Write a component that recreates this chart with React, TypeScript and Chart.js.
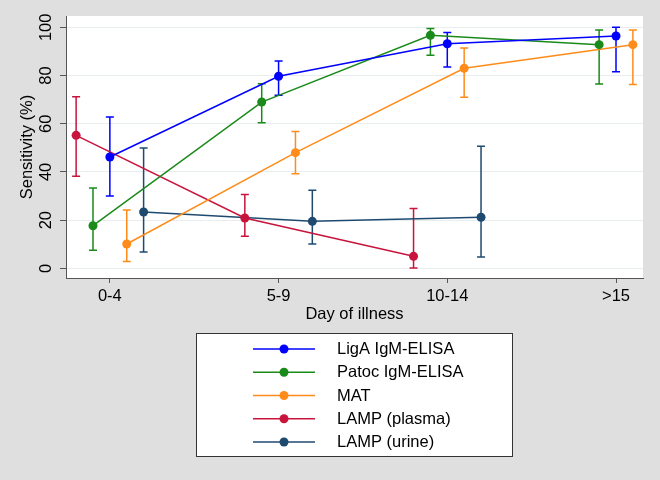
import React, { useEffect, useRef } from 'react';
import { Chart, registerables } from 'chart.js';

Chart.register(...registerables);

// ---- data ----
const categories = ['0-4', '5-9', '10-14', '>15'];
const yTickValues = [0, 20, 40, 60, 80, 100];

const seriesNames = ['LigA IgM-ELISA', 'Patoc IgM-ELISA', 'MAT', 'LAMP (plasma)', 'LAMP (urine)'];

const ligaEst = [46.2, 79.7, 93.2, 96.4];
const ligaLo = [30.0, 71.8, 83.5, 81.6];
const ligaHi = [62.8, 86.0, 97.9, 100];

const patocEst = [17.7, 69.0, 96.7, 92.8];
const patocLo = [7.5, 60.4, 88.4, 76.5];
const patocHi = [33.3, 76.6, 99.5, 98.9];

const matEst = [10.1, 48.0, 83.0, 92.8];
const matLo = [2.8, 39.3, 71.0, 76.3];
const matHi = [24.2, 56.8, 91.4, 98.9];

const plasmaEst = [55.2, 20.9, 5.0];
const plasmaLo = [38.2, 13.3, 0.1];
const plasmaHi = [71.2, 30.6, 24.8];

const urineEst = [23.4, 19.5, 21.2];
const urineLo = [6.8, 10.1, 4.7];
const urineHi = [49.9, 32.4, 50.7];

// ---- styles ----
const seriesColors = ['#0000ff', '#1a8a1a', '#ff8c1a', '#c8143c', '#1f4a70'];
const seriesShift = [0, -0.1, 0.1, -0.2, 0.2];
const FONT = '"Liberation Sans", Arial, Helvetica, sans-serif';
const FS = 16.5;
const BG = '#dfdfdf';

const seriesEst = [ligaEst, patocEst, matEst, plasmaEst, urineEst];
const seriesLo = [ligaLo, patocLo, matLo, plasmaLo, urineLo];
const seriesHi = [ligaHi, patocHi, matHi, plasmaHi, urineHi];

const bgPlugin = {
  id: 'bgPlugin',
  beforeDraw(chart: any) {
    const { ctx, chartArea } = chart;
    ctx.save();
    ctx.fillStyle = BG;
    ctx.fillRect(0, 0, chart.width, chart.height);
    ctx.fillStyle = '#ffffff';
    ctx.fillRect(chartArea.left, chartArea.top, chartArea.right - chartArea.left, chartArea.bottom - chartArea.top);
    ctx.restore();
  },
};

const errorBarPlugin = {
  id: 'errorBarPlugin',
  beforeDatasetsDraw(chart: any) {
    const { ctx } = chart;
    const yScale = chart.scales.y;
    const n = chart.data.datasets.length;
    for (let d = n - 1; d >= 0; d--) {
      const ds: any = chart.data.datasets[d];
      const meta = chart.getDatasetMeta(d);
      ctx.save();
      ctx.strokeStyle = ds.borderColor;
      ctx.lineWidth = 1.5;
      meta.data.forEach((pt: any, i: number) => {
        const x = pt.x;
        const yl = yScale.getPixelForValue(ds.errLo[i]);
        const yh = yScale.getPixelForValue(ds.errHi[i]);
        const cap = 4;
        ctx.beginPath();
        ctx.moveTo(x, yl);
        ctx.lineTo(x, yh);
        ctx.moveTo(x - cap, yl);
        ctx.lineTo(x + cap, yl);
        ctx.moveTo(x - cap, yh);
        ctx.lineTo(x + cap, yh);
        ctx.stroke();
      });
      ctx.restore();
    }
  },
};

const boxLegendPlugin = {
  id: 'boxLegendPlugin',
  afterDraw(chart: any) {
    const { ctx } = chart;
    const area = chart.chartArea;
    const w = 317;
    const h = 124;
    const cx = (area.left + area.right) / 2;
    const left = Math.round(cx - w / 2);
    const top = 333;
    ctx.save();
    ctx.fillStyle = '#ffffff';
    ctx.fillRect(left, top, w, h);
    ctx.strokeStyle = '#333333';
    ctx.lineWidth = 1;
    ctx.strokeRect(left + 0.5, top + 0.5, w - 1, h - 1);
    const rowStep = 23.25;
    chart.data.datasets.forEach((ds: any, i: number) => {
      const y = top + 16 + i * rowStep;
      const x0 = left + 57;
      const x1 = left + 119;
      ctx.strokeStyle = ds.borderColor;
      ctx.lineWidth = 1.5;
      ctx.beginPath();
      ctx.moveTo(x0, y);
      ctx.lineTo(x1, y);
      ctx.stroke();
      ctx.fillStyle = ds.borderColor;
      ctx.beginPath();
      ctx.arc((x0 + x1) / 2, y, 4.5, 0, Math.PI * 2);
      ctx.fill();
      ctx.fillStyle = '#000000';
      ctx.font = `${FS}px ${FONT}`;
      ctx.textAlign = 'left';
      ctx.textBaseline = 'middle';
      ctx.fillText(ds.label, left + 141, y + 0.5);
    });
    ctx.restore();
  },
};

export default function App() {
  const canvasRef = useRef<HTMLCanvasElement | null>(null);

  useEffect(() => {
    const canvas = canvasRef.current;
    if (!canvas) return;
    const datasets = seriesNames.map((name, s) => ({
      label: name,
      data: seriesEst[s].map((v, i) => ({ x: i + seriesShift[s], y: v })),
      errLo: seriesLo[s],
      errHi: seriesHi[s],
      borderColor: seriesColors[s],
      backgroundColor: seriesColors[s],
      pointBackgroundColor: seriesColors[s],
      pointBorderColor: seriesColors[s],
      pointBorderWidth: 0,
      pointRadius: 4.5,
      borderWidth: 1.5,
      tension: 0,
      fill: false,
    }));

    const chart = new Chart(canvas, {
      type: 'line',
      data: { datasets } as any,
      options: {
        animation: false,
        responsive: false,
        devicePixelRatio: 1,
        events: [],
        layout: { padding: { left: 0, top: 16, right: 17, bottom: 155 } },
        plugins: {
          legend: { display: false },
          tooltip: { enabled: false },
        },
        scales: {
          x: {
            type: 'linear',
            min: -0.26,
            max: 3.16,
            afterBuildTicks: (s: any) => {
              s.ticks = categories.map((_, i) => ({ value: i }));
            },
            afterFit: (s: any) => {
              s.height = 47;
            },
            ticks: {
              callback: (v: any) => categories[Math.round(Number(v))] ?? '',
              padding: 3.5,
              color: '#000',
              font: { family: FONT, size: FS },
              maxRotation: 0,
              minRotation: 0,
              autoSkip: false,
            },
            grid: {
              display: true,
              drawOnChartArea: false,
              tickLength: 5,
              tickColor: '#555555',
              tickWidth: 1,
            },
            border: { display: true, color: '#555555', width: 1 },
            title: {
              display: true,
              text: 'Day of illness',
              color: '#000',
              font: { family: FONT, size: FS },
              padding: { top: 0, bottom: 0.9 },
            },
          },
          y: {
            type: 'linear',
            min: -4,
            max: 104.7,
            afterBuildTicks: (s: any) => {
              s.ticks = yTickValues.map((v) => ({ value: v }));
            },
            afterFit: (s: any) => {
              s.width = 66;
            },
            ticks: {
              minRotation: 90,
              maxRotation: 90,
              crossAlign: 'center',
              padding: 0,
              color: '#000',
              font: { family: FONT, size: FS },
            },
            grid: {
              color: '#e8eef0',
              lineWidth: 1,
              tickLength: 6,
              tickColor: '#555555',
              tickWidth: 1,
            },
            border: { display: true, color: '#555555', width: 1 },
            title: {
              display: true,
              text: 'Sensitivity (%)',
              color: '#000',
              font: { family: FONT, size: FS },
              padding: { top: 18, bottom: 0 },
            },
          },
        },
      } as any,
      plugins: [bgPlugin, errorBarPlugin, boxLegendPlugin],
    });
    return () => chart.destroy();
  }, []);

  return (
    <div style={{ position: 'fixed', left: 0, top: 0, width: 660, height: 480, background: BG }}>
      <canvas ref={canvasRef} width={660} height={480} style={{ display: 'block', width: 660, height: 480 }} />
    </div>
  );
}
